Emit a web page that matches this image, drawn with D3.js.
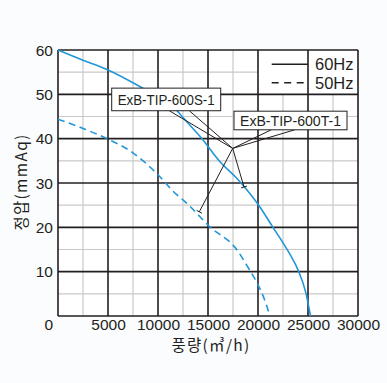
<!DOCTYPE html>
<html><head><meta charset="utf-8">
<script src="https://cdn.jsdelivr.net/npm/d3@7"></script>
<style>
html,body{margin:0;padding:0;background:#fbfcfe;}
svg{display:block;}
</style></head>
<body>
<svg id="chart" width="387" height="383"></svg>
<script>
// ---- data ----
const xTickValues = [5000, 10000, 15000, 20000, 25000, 30000];
const yTickValues = [0, 10, 20, 30, 40, 50, 60];
const xMinorValues = [2500, 7500, 12500, 17500, 22500, 27500];
const yMinorValues = [5, 15, 25, 35, 45, 55];

const flow60 = [0, 2500, 5000, 8000, 10000, 11500, 12400, 14400, 16200, 17900, 18900, 20000, 21500, 22500, 23200, 24000, 24800, 25250];
const pres60 = [60, 57.7, 55.5, 52, 49.4, 47.3, 45, 40, 34.8, 31, 28.4, 25.2, 20, 16.5, 13.9, 10.4, 5.1, 0];

const flow50 = [0, 2500, 5000, 7500, 9900, 11900, 12500, 14200, 15000, 17900, 19100, 19900, 20600, 21200];
const pres50 = [44.4, 42.3, 39.9, 36.8, 32.1, 27.3, 26.2, 22.4, 20.5, 14.9, 10.6, 7.5, 4, 0];

const legendLabels = ["60Hz", "50Hz"];
const modelLabels = ["ExB-TIP-600S-1", "ExB-TIP-600T-1"];
const xTitle = "풍량(㎥/h)";
const yTitle = "정압(mmAq)";

// annotation anchors in data units
const hub = [17470, 37.8];
const tip50 = [14130, 23.5];
const tip60 = [18600, 29.1];
const boxS = {x0: 5370, x1: 16270, y0: 51.4, y1: 46.3, w0: 11130, w1: 13130};
const boxT = {x0: 17600, x1: 28900, y0: 46.2, y1: 42.0, w0: 21330, w1: 23670};

// ---- layout ----
const svg = d3.select("#chart");
const x = d3.scaleLinear().domain([0, 30000]).range([58, 358]);
const y = d3.scaleLinear().domain([0, 60]).range([316, 50]);
const dark = "#231f20", minorC = "#c9c9c9", blue = "#2196d8";
const numFont = "'Liberation Sans', Arial, sans-serif";
const krFont = "'Noto Sans CJK KR', 'Liberation Sans', sans-serif";

svg.append("rect").attr("x", x(0)).attr("y", y(60)).attr("width", x(30000)-x(0)).attr("height", y(0)-y(60)).attr("fill", "#fff");

const g = svg.append("g");
// minor grid
g.selectAll(".mx").data(xMinorValues).join("line")
  .attr("x1", d => x(d)).attr("x2", d => x(d)).attr("y1", y(0)).attr("y2", y(60))
  .attr("stroke", minorC).attr("stroke-width", 1.2);
g.selectAll(".my").data(yMinorValues).join("line")
  .attr("y1", d => y(d)).attr("y2", d => y(d)).attr("x1", x(0)).attr("x2", x(30000))
  .attr("stroke", minorC).attr("stroke-width", 1.2);
// legend cell cover
g.append("rect").attr("x", x(20000)).attr("y", y(60)).attr("width", x(30000)-x(20000)).attr("height", y(50)-y(60)).attr("fill", "#fff");
// major grid
g.selectAll(".Mx").data([0].concat(xTickValues)).join("line")
  .attr("x1", d => x(d)).attr("x2", d => x(d)).attr("y1", y(0)).attr("y2", y(60))
  .attr("stroke", dark).attr("stroke-width", 1.6);
g.selectAll(".My").data(yTickValues).join("line")
  .attr("y1", d => y(d)).attr("y2", d => y(d)).attr("x1", x(0)).attr("x2", x(30000))
  .attr("stroke", dark).attr("stroke-width", 1.6);

// axes (labels only)
const ax = svg.append("g").attr("transform", `translate(0,${y(0)})`)
  .call(d3.axisBottom(x).tickValues(xTickValues).tickSize(0).tickPadding(3).tickFormat(d3.format("d")));
ax.select(".domain").remove();
ax.selectAll("text").attr("font-family", numFont).attr("font-size", 15.5).attr("fill", dark);

const ay = svg.append("g").attr("transform", `translate(${x(0)},0)`)
  .call(d3.axisLeft(y).tickValues(yTickValues).tickSize(0).tickPadding(5));
ay.select(".domain").remove();
ay.selectAll("text").attr("font-family", numFont).attr("font-size", 15.5).attr("fill", dark)
  .attr("dy", d => d === 0 ? "0.85em" : "0.34em");

// titles
svg.append("text").attr("x", 211).attr("y", 351).attr("text-anchor", "middle")
  .attr("font-family", krFont).attr("font-size", 15.5).attr("letter-spacing", 1.3).attr("fill", dark)
  .text(xTitle);
svg.append("text").attr("transform", `translate(27,${182}) rotate(-90)`).attr("text-anchor", "middle")
  .attr("font-family", krFont).attr("font-size", 15.5).attr("letter-spacing", 1.3).attr("fill", dark)
  .text(yTitle);

// curves
const line = d3.line().x(d => x(d[0])).y(d => y(d[1])).curve(d3.curveMonotoneX);
svg.append("path").datum(d3.zip(flow60, pres60)).attr("d", line)
  .attr("fill", "none").attr("stroke", blue).attr("stroke-width", 1.6);
svg.append("path").datum(d3.zip(flow50, pres50)).attr("d", line)
  .attr("fill", "none").attr("stroke", blue).attr("stroke-width", 1.6).attr("stroke-dasharray", "7,4.5");

// legend
const leg = svg.append("g");
[[56.8, null], [52.6, "7,5.5"]].forEach((r, i) => {
  leg.append("line").attr("x1", x(21370)).attr("x2", x(25000)).attr("y1", y(r[0])).attr("y2", y(r[0]))
    .attr("stroke", dark).attr("stroke-width", 1.6).attr("stroke-dasharray", r[1]);
  leg.append("text").attr("x", x(25700)).attr("y", y(r[0])).attr("dy", "0.36em")
    .attr("font-family", numFont).attr("font-size", 16.5).attr("fill", dark).text(legendLabels[i]);
});

// leaders
const ann = svg.append("g").attr("stroke", dark).attr("stroke-width", 1).attr("fill", "none");
const P = p => [x(p[0]), y(p[1])];
function seg(a, b) { ann.append("line").attr("x1", a[0]).attr("y1", a[1]).attr("x2", b[0]).attr("y2", b[1]); }
const H = P(hub);
seg(H, P([boxS.w0, boxS.y1])); seg(H, P([boxS.w1, boxS.y1]));
seg(H, P([boxT.w0, boxT.y1])); seg(H, P([boxT.w1, boxT.y1]));
[tip50, tip60].forEach(t => {
  const T = P(t); seg(H, T);
  const dx = T[0]-H[0], dy = T[1]-H[1], n = Math.hypot(dx, dy);
  const px = -dy/n*3, py = dx/n*3;
  seg([T[0]+px, T[1]+py], [T[0]-px, T[1]-py]);
});

// label boxes
[boxS, boxT].forEach((b, i) => {
  svg.append("rect").attr("x", x(b.x0)).attr("y", y(b.y0)).attr("width", x(b.x1)-x(b.x0)).attr("height", y(b.y1)-y(b.y0))
    .attr("fill", "#fff").attr("stroke", dark).attr("stroke-width", 1);
  svg.append("text").attr("x", (x(b.x0)+x(b.x1))/2).attr("y", (y(b.y0)+y(b.y1))/2).attr("dy", "0.36em")
    .attr("text-anchor", "middle").attr("font-family", numFont).attr("font-size", 15).attr("fill", dark)
    .attr("textLength", x(b.x1)-x(b.x0)-12).attr("lengthAdjust", "spacingAndGlyphs")
    .text(modelLabels[i]);
});
</script>
</body></html>
